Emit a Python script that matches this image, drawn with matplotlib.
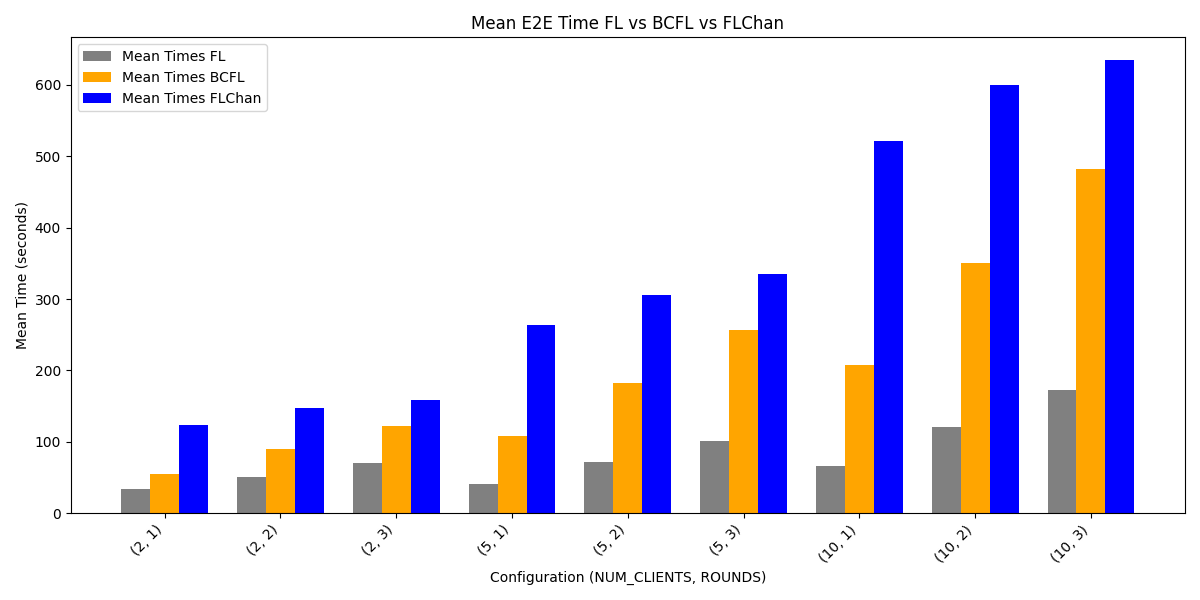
import numpy as np
import matplotlib.pyplot as plt

configs = ['(2, 1)', '(2, 2)', '(2, 3)', '(5, 1)', '(5, 2)', '(5, 3)', '(10, 1)', '(10, 2)', '(10, 3)']
mean_fl = [33.6, 50, 70, 40.6, 71, 100.7, 66, 120, 173]
mean_bcfl = [54.5, 89.5, 121.7, 107.7, 181.8, 257, 207, 351, 482.5]
mean_flchan = [123, 147, 158, 263, 306, 335.7, 521.7, 600, 635]

x = np.arange(len(configs))
w = 0.25

fig, ax = plt.subplots(figsize=(12, 6), dpi=100)
ax.bar(x - w, mean_fl, w, color='gray', label='Mean Times FL')
ax.bar(x, mean_bcfl, w, color='orange', label='Mean Times BCFL')
ax.bar(x + w, mean_flchan, w, color='blue', label='Mean Times FLChan')

ax.set_xticks(x)
ax.set_xticklabels(configs, rotation=45, ha='right')
ax.set_xlabel('Configuration (NUM_CLIENTS, ROUNDS)')
ax.set_ylabel('Mean Time (seconds)')
ax.set_title('Mean E2E Time FL vs BCFL vs FLChan')
ax.legend(loc='upper left')

plt.tight_layout()
plt.savefig('out.png')
